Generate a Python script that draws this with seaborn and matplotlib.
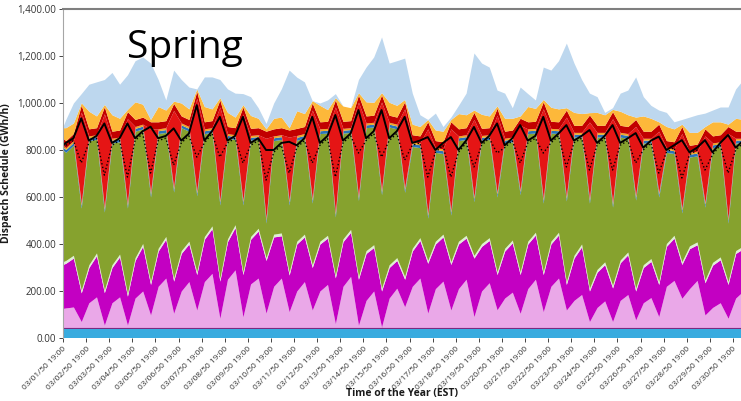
"""
Spring dispatch schedule - stacked hourly generation by resource
"""
import numpy as np
import matplotlib
matplotlib.use("Agg")
import matplotlib.pyplot as plt
from matplotlib.ticker import FuncFormatter
import seaborn as sns

# sample phases within each day (fraction of a day after 19:00)
phases = [0.12, 0.45, 0.79]
sample_time = np.array([0.0] + [d + p for d in range(29) for p in phases] + [29.12, 29.45])

tick_days = list(range(1, 31))
tick_labels = [f"03/{d:02d}/50 19:00" for d in tick_days]

# flat bands (GWh/h)
nuclear = 40
other = 5
green_strip = 12
blue_band = 12
yellow_band = 8
dark_red_band = 30

# cumulative tops
pink_top = [126,
            128, 132, 70, 150, 175, 55, 150, 175, 55, 170, 200, 98, 220, 255, 105,
            200, 240, 119, 240, 275, 84, 250, 290, 90, 230, 255, 106, 220, 255, 112,
            200, 240, 119, 200, 228, 61, 220, 262, 54, 160, 200, 47, 170, 212, 133,
            220, 255, 106, 210, 242, 119, 210, 250, 91, 200, 235, 120, 170, 195, 105,
            210, 250, 112, 220, 255, 119, 160, 185, 70, 130, 158, 70, 160, 185, 77,
            150, 172, 91, 220, 245, 169, 210, 245, 98, 130, 150, 84,
            170, 200]
magenta_top = [313,
               318, 340, 192, 300, 350, 193, 300, 345, 178, 330, 390, 228, 370, 420, 242,
               360, 400, 270, 420, 465, 242, 410, 470, 270, 420, 455, 330, 430, 435, 268,
               400, 430, 300, 400, 425, 256, 410, 450, 250, 360, 385, 200, 300, 330, 250,
               370, 415, 318, 400, 430, 313, 400, 425, 340, 390, 415, 270, 370, 405, 270,
               400, 438, 270, 400, 438, 228, 340, 388, 200, 280, 312, 213, 320, 354, 200,
               300, 326, 228, 390, 425, 313, 380, 397, 235, 310, 333, 228,
               360, 380]
green_top = [800,
             790, 820, 553, 840, 845, 536, 830, 835, 553, 880, 890, 600, 870, 875, 621,
             895, 880, 605, 870, 875, 566, 850, 845, 566, 842, 845, 489, 840, 845, 566,
             842, 850, 574, 870, 872, 515, 872, 875, 585, 895, 898, 610, 898, 890, 620,
             815, 810, 510, 790, 785, 523, 840, 845, 580, 842, 845, 600, 830, 835, 610,
             870, 872, 574, 872, 870, 583, 855, 855, 574, 855, 855, 557, 855, 850, 587,
             830, 830, 600, 790, 785, 532, 770, 775, 557, 810, 815, 489,
             830, 830]
# solar output at the midday sample of each day (zero overnight)
solar_midday = [388, 398, 360, 270, 327, 395, 397, 367, 341, 269, 376, 448, 399, 374, 335,
                360, 347, 330, 328, 275, 381, 337, 325, 356, 293, 260, 318, 283, 361]
orange = [45,
          55, 45, 10, 75, 50, 10, 70, 50, 10, 75, 55, 10, 65, 45, 10,
          55, 45, 10, 65, 50, 10, 60, 45, 10, 55, 40, 10, 45, 45, 10,
          75, 55, 10, 70, 50, 10, 65, 55, 10, 60, 55, 10, 55, 50, 10,
          45, 40, 10, 45, 45, 10, 65, 55, 10, 60, 50, 10, 55, 50, 10,
          65, 55, 10, 60, 55, 10, 55, 50, 10, 55, 45, 10, 60, 50, 10,
          65, 55, 10, 60, 55, 10, 55, 50, 10, 60, 55, 10,
          55, 50]
lightblue_top = [900,
                 930, 1000, 1040, 1080, 1090, 1100, 1130, 1080, 1120, 1180, 1196, 1170, 1100, 1013, 1140,
                 1100, 1068, 1060, 1111, 1111, 1100, 1060, 1042, 1040, 1027, 980, 913, 1000, 1060, 1140,
                 1110, 1090, 1010, 1000, 1013, 1040, 980, 970, 1100, 1153, 1196, 1281, 1170, 1180, 1191,
                 1042, 950, 930, 957, 900, 940, 990, 1042, 1213, 1170, 1153, 1055, 1042, 980, 1068,
                 1040, 1013, 1153, 1140, 1180, 1255, 1170, 1100, 1042, 1027, 960, 980, 1042, 1055, 1111,
                 1027, 990, 970, 960, 920, 930, 940, 950, 957, 970, 983, 983,
                 1060, 1100]
load = [820,
        830, 850, 935, 840, 860, 913, 830, 850, 913, 850, 880, 899, 850, 860, 892,
        840, 870, 991, 840, 880, 941, 840, 860, 941, 830, 850, 800, 800, 830, 835,
        820, 850, 941, 830, 860, 949, 840, 870, 970, 850, 880, 970, 850, 880, 941,
        830, 840, 855, 800, 830, 855, 800, 840, 898, 830, 860, 913, 820, 850, 906,
        840, 860, 941, 840, 870, 906, 840, 860, 885, 830, 860, 906, 830, 850, 872,
        810, 840, 857, 800, 820, 842, 790, 810, 842, 790, 830, 864,
        810, 840]
net_load = [810,
            820, 840, 745, 830, 850, 693, 820, 840, 685, 840, 870, 702, 840, 850, 736,
            830, 860, 770, 830, 870, 770, 830, 850, 745, 820, 840, 672, 790, 820, 702,
            810, 840, 745, 820, 850, 685, 830, 860, 787, 840, 870, 770, 840, 870, 757,
            820, 830, 685, 790, 820, 685, 790, 830, 728, 820, 850, 787, 810, 840, 745,
            830, 850, 787, 830, 860, 728, 830, 850, 715, 820, 850, 715, 820, 840, 745,
            800, 830, 702, 790, 810, 681, 780, 800, 715, 780, 820, 702,
            800, 830]

colors = ["#39ABDF", "#7A2A80", "#EAA8E8", "#C300C2", "#DDEFD3", "#86A22E",
          "#2A74B8", "#F2A623", "#E51515", "#C20000", "#FDB83A", "#BDD7EE"]

n = len(sample_time)
pink_top = np.array(pink_top, float)
magenta_top = np.array(magenta_top, float)
green_top = np.array(green_top, float)
solar = np.zeros(n)
solar[3:3 + 3 * len(solar_midday):3] = solar_midday
orange = np.array(orange, float)
below_lb = green_top + blue_band + yellow_band + solar + dark_red_band + orange
layers = [
    np.full(n, nuclear, float),
    np.full(n, other, float),
    pink_top - nuclear - other,
    magenta_top - pink_top,
    np.full(n, green_strip, float),
    green_top - magenta_top - green_strip,
    np.full(n, blue_band, float),
    np.full(n, yellow_band, float),
    solar,
    np.full(n, dark_red_band, float),
    orange,
    np.clip(np.array(lightblue_top, float) - below_lb, 0, None),
]

sns.set_theme(style="white")
plt.rcParams["font.family"] = ["Open Sans", "DejaVu Sans"]

fig = plt.figure(figsize=(7.41, 4.01), dpi=100)
ax = fig.add_axes([63 / 741, 63 / 401, 678 / 741, 329 / 401])

ax.stackplot(sample_time, *layers, colors=colors, linewidth=0)
sns.lineplot(x=sample_time, y=net_load, color="black", linestyle=":", linewidth=1.0, ax=ax)
sns.lineplot(x=sample_time, y=load, color="black", linewidth=1.4, ax=ax)

ax.text(2.77, 1190, "Spring", fontsize=28, color="black", va="baseline")

ax.set_xlim(0, 29.35)
ax.set_ylim(0, 1400)
ax.set_yticks(range(0, 1401, 200))
ax.yaxis.set_major_formatter(FuncFormatter(lambda v, _: f"{v:,.2f}"))
ax.set_xticks([d - 1 for d in tick_days])
ax.set_xticklabels(tick_labels, rotation=45, ha="right", rotation_mode="anchor")
ax.tick_params(axis="y", labelsize=7, length=3, width=0.6, direction="out", left=True, pad=2)
ax.tick_params(axis="x", labelsize=6, length=3, width=0.6, direction="out", bottom=True, pad=2)
for lbl in ax.get_yticklabels() + ax.get_xticklabels():
    lbl.set_color("#333333")

for side in ["right", "bottom"]:
    ax.spines[side].set_visible(False)
ax.spines["left"].set_color("#A6A6A6")
ax.spines["left"].set_linewidth(0.8)
ax.spines["top"].set_color("#7F7F7F")
ax.spines["top"].set_linewidth(1.5)

ax.set_ylabel("Dispatch Schedule (GWh/h)", fontsize=7.5, fontweight="bold", color="#1A1A1A")
ax.yaxis.set_label_coords(-0.075, 0.5)
ax.set_xlabel("Time of the Year (EST)", fontsize=7.5, fontweight="bold", color="#1A1A1A", va="center")
ax.xaxis.set_label_coords(0.5, -0.168)

fig.savefig("out.png", dpi=100)
